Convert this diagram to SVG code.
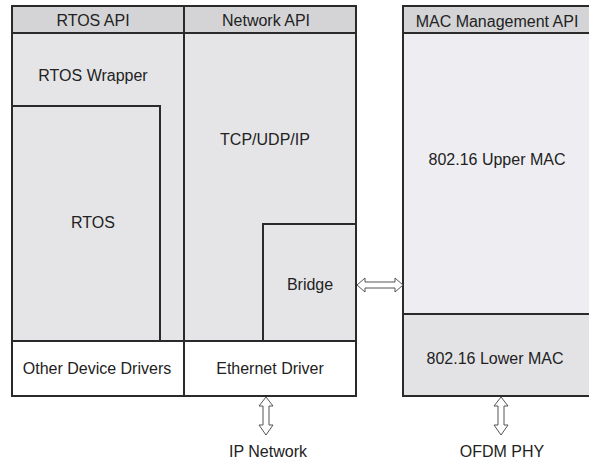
<svg xmlns="http://www.w3.org/2000/svg" width="589" height="462" viewBox="0 0 589 462">
<style>
.ln{stroke:#2a2a2a;stroke-width:2;fill:none}
.hd{fill:#d4d4d6}
.bd{fill:#e5e5e7}
.t{font-family:"Liberation Sans",Arial,sans-serif;font-size:16px;fill:#222;text-anchor:middle}
.ar{fill:#fff;stroke:#555;stroke-width:1}
</style>
<rect width="589" height="462" fill="#fff"/>
<g id="left-stack">
<rect x="12" y="6" width="344" height="390" class="bd"/>
<rect x="12" y="6" width="344" height="27" class="hd"/>
<rect x="12" y="341" width="344" height="55" fill="#fff"/>
</g>
<g id="rtos-api"><line x1="12" y1="33" x2="184" y2="33" class="ln"/><text x="93" y="26" class="t">RTOS API</text></g>
<g id="network-api"><line x1="184" y1="33" x2="356" y2="33" class="ln"/><text x="266" y="26" class="t">Network API</text></g>
<g id="rtos-wrapper"><text x="93" y="81" class="t">RTOS Wrapper</text></g>
<g id="rtos"><polyline points="12,106 160,106 160,341" class="ln"/><text x="93" y="228" class="t">RTOS</text></g>
<g id="tcpip"><text x="265" y="145" class="t">TCP/UDP/IP</text></g>
<g id="bridge"><polyline points="263,341 263,224 356,224" class="ln"/><text x="310" y="290" class="t">Bridge</text></g>
<g id="other-drivers"><text x="97" y="374" class="t">Other Device Drivers</text></g>
<g id="ethernet-driver"><text x="270" y="374" class="t">Ethernet Driver</text></g>
<g id="left-frame">
<rect x="12" y="6" width="344" height="390" class="ln"/>
<line x1="184" y1="6" x2="184" y2="396" class="ln"/>
<line x1="12" y1="341" x2="356" y2="341" class="ln"/>
</g>
<g id="mac-stack">
<rect x="403" y="6" width="192" height="390" fill="#eeeef2"/>
<rect x="403" y="6" width="192" height="27" class="hd"/>
<rect x="403" y="314" width="192" height="82" fill="#e3e3e5"/>
<path d="M595,6 H403 V396 H595 M403,33 H595 M403,314 H595" class="ln"/>
</g>
<g id="mac-api"><text x="497" y="27" class="t">MAC Management API</text></g>
<g id="upper-mac"><text x="497" y="165" class="t">802.16 Upper MAC</text></g>
<g id="lower-mac"><text x="495" y="364" class="t">802.16 Lower MAC</text></g>
<g id="ip-network"><text x="268" y="457" class="t">IP Network</text></g>
<g id="ofdm-phy"><text x="502" y="457" class="t">OFDM PHY</text></g>
<g id="connectors">
<path class="ar" d="M357,285 L365,278 L365,282 L395,282 L395,278 L403,285 L395,292 L395,288 L365,288 L365,292 Z"/>
<path class="ar" d="M266,397 L273,406 L269,406 L269,425 L273,425 L266,435 L259,425 L263,425 L263,406 L259,406 Z"/>
<path class="ar" d="M501,397 L508,406 L504,406 L504,425 L508,425 L501,435 L494,425 L498,425 L498,406 L494,406 Z"/>
</g>
</svg>
